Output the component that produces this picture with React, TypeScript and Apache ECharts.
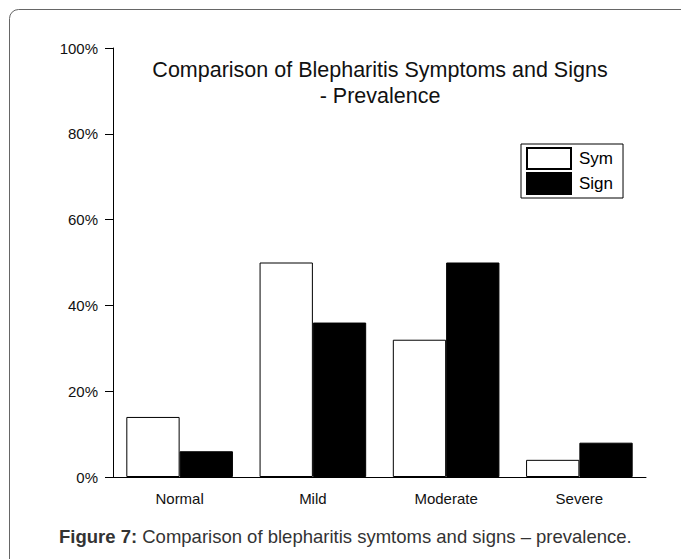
import React, { useEffect, useRef } from "react";
import * as echarts from "echarts";

const categories = ["Normal", "Mild", "Moderate", "Severe"];
const symValues = [14, 50, 32, 4];
const signValues = [6, 36, 50, 8];
const yTicks = [0, 20, 40, 60, 80, 100];
const seriesNames = ["Sym", "Sign"];
const titleLines = ["Comparison of Blepharitis Symptoms and Signs", "- Prevalence"];
const captionBold = "Figure 7:";
const captionRest = " Comparison of blepharitis symtoms and signs – prevalence.";

export default function App() {
  const ref = useRef<HTMLDivElement>(null);
  useEffect(() => {
    if (!ref.current) return;
    const chart = echarts.init(ref.current, null, { renderer: "svg" });
    const font = "Liberation Sans, Arial, sans-serif";
    chart.setOption({
      animation: false,
      backgroundColor: "#fff",
      textStyle: { fontFamily: font },
      grid: { left: 113, right: 35, top: 48, bottom: 82, containLabel: false },
      legend: {
        orient: "vertical",
        left: 521,
        top: 144,
        padding: [3, 10, 3, 5],
        itemGap: 2,
        itemWidth: 44,
        itemHeight: 21,
        icon: "rect",
        borderColor: "#000",
        borderWidth: 1,
        backgroundColor: "#fff",
        textStyle: { fontSize: 17, color: "#000", fontFamily: font, padding: [0, 0, 0, 3] },
        data: seriesNames,
      },
      xAxis: {
        type: "category",
        data: categories,
        axisLine: { lineStyle: { color: "#000", width: 1 } },
        axisTick: { alignWithLabel: true, length: 8, lineStyle: { color: "#000" } },
        axisLabel: { fontSize: 15, color: "#111", margin: 14, fontFamily: font },
      },
      yAxis: {
        type: "value",
        min: 0,
        max: yTicks[yTicks.length - 1],
        interval: 20,
        splitLine: { show: false },
        axisLine: { show: true, lineStyle: { color: "#000", width: 1 } },
        axisTick: { show: true, length: 8, lineStyle: { color: "#000" } },
        axisLabel: { fontSize: 15, color: "#111", margin: 15, formatter: "{value}%", fontFamily: font },
      },
      series: [
        {
          name: seriesNames[0],
          type: "bar",
          data: symValues,
          barGap: "0%",
          barCategoryGap: "20%",
          itemStyle: { color: "#fff", borderColor: "#000", borderWidth: 1 },
        },
        {
          name: seriesNames[1],
          type: "bar",
          data: signValues,
          barGap: "0%",
          barCategoryGap: "20%",
          itemStyle: { color: "#000", borderColor: "#000", borderWidth: 1 },
        },
      ],
      graphic: [
        {
          type: "rect",
          z: -10,
          silent: true,
          shape: { x: 9.5, y: 9.5, width: 720, height: 600, r: 9 },
          style: { fill: "none", stroke: "#666", lineWidth: 1 },
        },
        {
          type: "text",
          x: 380,
          y: 70,
          style: { text: titleLines[0], fontSize: 21.5, fill: "#111", textAlign: "center", textVerticalAlign: "middle", fontFamily: font },
        },
        {
          type: "text",
          x: 380,
          y: 96,
          style: { text: titleLines[1], fontSize: 21.5, fill: "#111", textAlign: "center", textVerticalAlign: "middle", fontFamily: font },
        },
        {
          type: "text",
          x: 59,
          y: 536,
          style: {
            text: "{b|" + captionBold + "}{r|" + captionRest + "}",
            textVerticalAlign: "middle",
            rich: {
              b: { fontSize: 18.5, fontWeight: "bold", fill: "#333", fontFamily: font },
              r: { fontSize: 18.5, fill: "#333", fontFamily: font },
            },
          },
        },
      ],
    });
    return () => chart.dispose();
  }, []);
  return (
    <div
      ref={ref}
      style={{ position: "absolute", left: 0, top: 0, width: 681, height: 559 }}
    />
  );
}
